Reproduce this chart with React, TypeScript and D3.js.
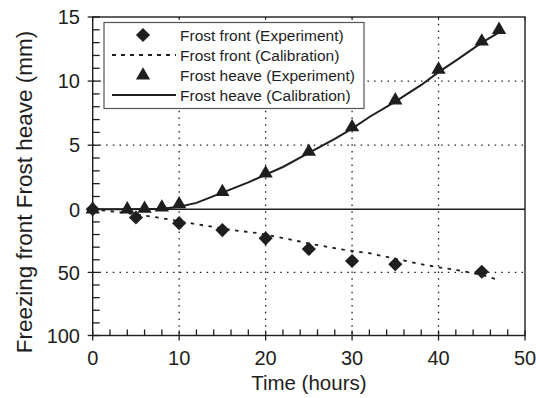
import React, { useRef, useEffect } from 'react';
import * as d3 from 'd3';

// hours
const frontExpHours = [0, 5, 10, 15, 20, 25, 30, 35, 45];
// freezing front depth (mm)
const frontExpDepth = [0, 6.5, 11, 16.5, 23, 31.5, 41, 43.5, 49.5];

const frontCalHours = [0, 2, 4, 6, 8, 10, 12, 14, 16, 19, 22.5, 25.7, 29, 32, 35, 38, 40, 42, 45, 47];
const frontCalDepth = [0, 1.5, 3, 5, 7, 9.5, 11.8, 14, 16.4, 18.8, 23.5, 28, 32, 34.8, 39.2, 43.5, 46, 48, 52, 56];

const heaveExpHours = [0, 4, 6, 8, 10, 15, 20, 25, 30, 35, 40, 45, 47];
const heaveExpValue = [0, 0, 0.05, 0.15, 0.4, 1.35, 2.8, 4.5, 6.4, 8.5, 10.9, 13.1, 14.0];

const heaveCalHours = [0, 4, 8, 10, 12, 15, 18, 20, 22, 25, 28, 30, 32, 35, 38, 40, 42, 45, 47];
const heaveCalValue = [0, 0, 0.05, 0.2, 0.5, 1.3, 2.1, 2.7, 3.3, 4.4, 5.5, 6.3, 7.2, 8.4, 9.7, 10.7, 11.6, 13.0, 13.8];

const xTicks = [0, 10, 20, 30, 40, 50];
// axis units: heave (mm) above zero, freezing front (mm / 10) below zero
const yTicks = [15, 10, 5, 0, -5, -10];
const yTickLabels = ['15', '10', '5', '0', '50', '100'];

const legendLabels = [
  'Frost front (Experiment)',
  'Frost front (Calibration)',
  'Frost heave (Experiment)',
  'Frost heave (Calibration)',
];

const INK = '#1e1e1e';
const FONT = '"Liberation Sans", Arial, sans-serif';

function App() {
  const svgRef = useRef<SVGSVGElement>(null);

  useEffect(() => {
    const svg = d3.select(svgRef.current);
    svg.selectAll('*').remove();

    const left = 92.7, right = 525, top = 17, bottom = 335.5;

    const x = d3.scaleLinear().domain([0, 50]).range([left, right]);
    const y = d3.scaleLinear().domain([-10, 0, 15]).range([bottom, 209.3, top]);

    const g = svg.append('g');

    // dotted grid
    [10, 20, 30, 40].forEach(v => {
      g.append('line')
        .attr('x1', x(v)).attr('x2', x(v)).attr('y1', top).attr('y2', bottom)
        .attr('stroke', INK).attr('stroke-width', 1.3).attr('stroke-dasharray', '1.5,5.2');
    });
    [10, 5, -5].forEach(v => {
      g.append('line')
        .attr('x1', left).attr('x2', right).attr('y1', y(v)).attr('y2', y(v))
        .attr('stroke', INK).attr('stroke-width', 1.3).attr('stroke-dasharray', '1.5,5.2');
    });

    // zero line
    g.append('line')
      .attr('x1', left).attr('x2', right).attr('y1', y(0)).attr('y2', y(0))
      .attr('stroke', INK).attr('stroke-width', 1.4);

    // frame
    g.append('rect')
      .attr('x', left).attr('y', top).attr('width', right - left).attr('height', bottom - top)
      .attr('fill', 'none').attr('stroke', INK).attr('stroke-width', 1.4);

    // x ticks
    d3.range(0, 51, 2).forEach(v => {
      if (v % 10 === 0) {
        g.append('line').attr('x1', x(v)).attr('x2', x(v)).attr('y1', bottom - 5).attr('y2', bottom + 5)
          .attr('stroke', INK).attr('stroke-width', 1.3);
        g.append('line').attr('x1', x(v)).attr('x2', x(v)).attr('y1', top).attr('y2', top + 3)
          .attr('stroke', INK).attr('stroke-width', 1);
      } else {
        g.append('line').attr('x1', x(v)).attr('x2', x(v)).attr('y1', bottom - 6).attr('y2', bottom)
          .attr('stroke', INK).attr('stroke-width', 1.3);
      }
    });
    // y ticks
    d3.range(-10, 16, 1).forEach(v => {
      if (v % 5 === 0) {
        g.append('line').attr('x1', left - 5).attr('x2', left + 7).attr('y1', y(v)).attr('y2', y(v))
          .attr('stroke', INK).attr('stroke-width', 1.3);
      } else {
        g.append('line').attr('x1', left).attr('x2', left + 7).attr('y1', y(v)).attr('y2', y(v))
          .attr('stroke', INK).attr('stroke-width', 1.3);
      }
    });

    // tick labels
    g.selectAll('.xl').data(xTicks).enter().append('text')
      .attr('x', d => x(d)).attr('y', 365)
      .attr('text-anchor', 'middle').attr('font-size', 20).attr('font-family', FONT).attr('fill', INK)
      .text(d => d);
    g.selectAll('.yl').data(yTicks).enter().append('text')
      .attr('x', 80).attr('y', d => y(d)).attr('dy', '0.36em')
      .attr('text-anchor', 'end').attr('font-size', 20).attr('font-family', FONT).attr('fill', INK)
      .text((d, i) => yTickLabels[i]);

    // axis titles
    g.append('text')
      .attr('x', x(25)).attr('y', 390)
      .attr('text-anchor', 'middle').attr('font-size', 20.5).attr('font-family', FONT).attr('fill', INK)
      .text('Time (hours)');
    g.append('text')
      .attr('transform', 'translate(32,192) rotate(-90)')
      .attr('text-anchor', 'middle').attr('font-size', 22.5).attr('font-family', FONT).attr('fill', INK)
      .text('Freezing front Frost heave (mm)');

    // lines
    const line = d3.line<[number, number]>().x(d => x(d[0])).y(d => y(d[1]));

    const frontCal = frontCalHours.map((h, i) => [h, -frontCalDepth[i] / 10] as [number, number]);
    g.append('path').datum(frontCal)
      .attr('fill', 'none').attr('stroke', INK).attr('stroke-width', 1.8)
      .attr('stroke-dasharray', '3.5,5.5').attr('d', line);

    const heaveCal = heaveCalHours.map((h, i) => [h, heaveCalValue[i]] as [number, number]);
    g.append('path').datum(heaveCal)
      .attr('fill', 'none').attr('stroke', INK).attr('stroke-width', 2)
      .attr('d', line);

    // markers
    const diamond = d3.symbol().type(d3.symbolSquare).size(100);
    const triangle = d3.symbol().type(d3.symbolTriangle).size(88);

    frontExpHours.forEach((h, i) => {
      g.append('path').attr('d', diamond())
        .attr('transform', `translate(${x(h)},${y(-frontExpDepth[i] / 10)}) rotate(45)`)
        .attr('fill', INK);
    });
    heaveExpHours.forEach((h, i) => {
      g.append('path').attr('d', triangle())
        .attr('transform', `translate(${x(h)},${y(heaveExpValue[i])})`)
        .attr('fill', INK);
    });

    // legend
    const lg = svg.append('g');
    lg.append('rect')
      .attr('x', 104).attr('y', 22.5).attr('width', 260).attr('height', 86)
      .attr('fill', '#fff').attr('stroke', '#555').attr('stroke-width', 1.2);
    const rowY = [35, 55, 75.5, 95];
    legendLabels.forEach((label, i) => {
      lg.append('text')
        .attr('x', 180).attr('y', rowY[i]).attr('dy', '0.36em')
        .attr('font-size', 15.5).attr('font-family', FONT).attr('fill', INK)
        .text(label);
    });
    lg.append('path').attr('d', diamond())
      .attr('transform', `translate(143,${rowY[0]}) rotate(45)`).attr('fill', INK);
    lg.append('line').attr('x1', 112).attr('x2', 176).attr('y1', rowY[1]).attr('y2', rowY[1])
      .attr('stroke', INK).attr('stroke-width', 1.8).attr('stroke-dasharray', '4,5');
    lg.append('path').attr('d', triangle())
      .attr('transform', `translate(143,${rowY[2]})`).attr('fill', INK);
    lg.append('line').attr('x1', 112).attr('x2', 176).attr('y1', rowY[3]).attr('y2', rowY[3])
      .attr('stroke', INK).attr('stroke-width', 2);
  }, []);

  return (
    <svg
      ref={svgRef}
      width={536}
      height={398}
      style={{ position: 'absolute', left: 0, top: 0, background: '#fff' }}
    />
  );
}

export default App;
